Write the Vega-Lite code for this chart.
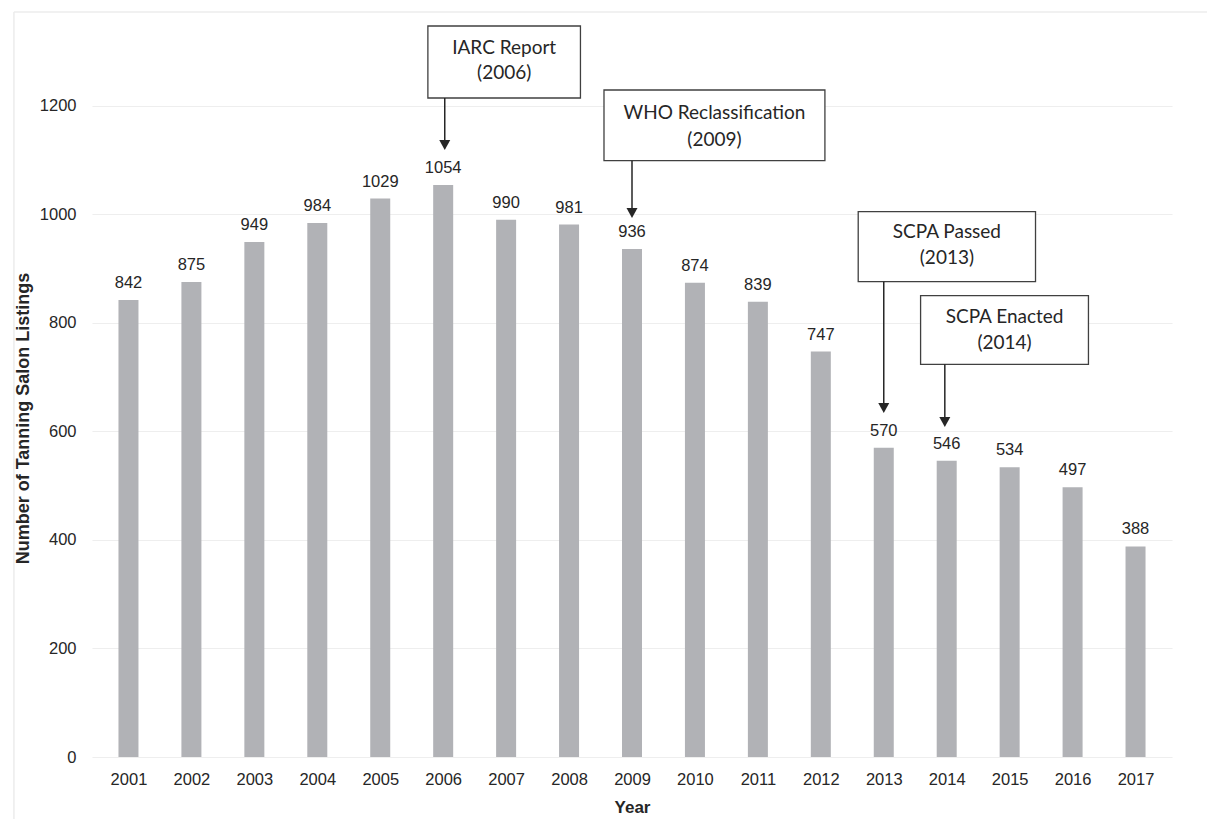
{
  "$schema": "https://vega.github.io/schema/vega-lite/v6.json",
  "width": 1080,
  "height": 749,
  "autosize": {"type": "none"},
  "padding": {"left": 92, "top": 8, "right": 35, "bottom": 62},
  "background": "white",
  "config": {"view": {"stroke": null}, "font": "Liberation Sans", "axis": {"labelFont": "Liberation Sans", "titleFont": "Liberation Sans"}},
  "datasets": {
    "bars": [
      {"year": 2001, "value": 842}, {"year": 2002, "value": 875}, {"year": 2003, "value": 949},
      {"year": 2004, "value": 984}, {"year": 2005, "value": 1029}, {"year": 2006, "value": 1054},
      {"year": 2007, "value": 990}, {"year": 2008, "value": 981}, {"year": 2009, "value": 936},
      {"year": 2010, "value": 874}, {"year": 2011, "value": 839}, {"year": 2012, "value": 747},
      {"year": 2013, "value": 570}, {"year": 2014, "value": 546}, {"year": 2015, "value": 534},
      {"year": 2016, "value": 497}, {"year": 2017, "value": 388}
    ],
    "boxes": [
      {"name": "IARC", "year": 2005.757, "year2": 2008.181, "value": 1346.8, "value2": 1214.2},
      {"name": "WHO", "year": 2008.555, "year2": 2012.065, "value": 1228.9, "value2": 1098.7},
      {"name": "SCPA P", "year": 2012.594, "year2": 2015.411, "value": 1004.7, "value2": 875.7},
      {"name": "SCPA E", "year": 2013.585, "year2": 2016.252, "value": 849.9, "value2": 723.5}
    ],
    "boxtext": [
      {"year": 2006.969, "value": 1305.8, "label": "IARC Report"},
      {"year": 2006.969, "value": 1259.7, "label": "(2006)"},
      {"year": 2010.31, "value": 1186.0, "label": "WHO Reclassification"},
      {"year": 2010.31, "value": 1136.8, "label": "(2009)"},
      {"year": 2014.003, "value": 966.7, "label": "SCPA Passed"},
      {"year": 2014.003, "value": 918.8, "label": "(2013)"},
      {"year": 2014.919, "value": 811.2, "label": "SCPA Enacted"},
      {"year": 2014.919, "value": 762.2, "label": "(2014)"}
    ],
    "arrows": [
      {"year": 2006.025, "value": 1214.2, "value2": 1135.0, "head": 1127.6},
      {"year": 2009.0, "value": 1098.7, "value2": 1009.7, "head": 1002.3},
      {"year": 2013.0, "value": 875.7, "value2": 650.4, "head": 643.0},
      {"year": 2013.97, "value": 723.5, "value2": 624.6, "head": 617.2}
    ],
    "frameH": [{"year": 1999.18, "year2": 2018.6, "value": 1372.6}],
    "frameV": [{"year": 1999.18, "value": 1372.6, "value2": -120}]
  },
  "layer": [
    {
      "data": {"name": "bars"},
      "mark": {"type": "bar", "width": 20, "color": "#b1b2b6"},
      "encoding": {
        "x": {
          "field": "year", "type": "quantitative",
          "scale": {"domain": [2000.5, 2017.5], "nice": false, "zero": false},
          "axis": {
            "values": [2001, 2002, 2003, 2004, 2005, 2006, 2007, 2008, 2009, 2010, 2011, 2012, 2013, 2014, 2015, 2016, 2017],
            "format": "d", "grid": false, "domain": false, "ticks": false,
            "labelFont": "Liberation Sans", "labelFontSize": 16.5, "labelColor": "#262626", "labelPadding": 14,
            "title": "Year", "titleFont": "Liberation Sans", "titleFontSize": 17, "titleFontWeight": "bold", "titleColor": "#262626",
            "titleY": 55, "titleBaseline": "alphabetic"
          }
        },
        "y": {
          "field": "value", "type": "quantitative",
          "scale": {"domain": [0, 1380], "nice": false},
          "axis": {
            "values": [0, 200, 400, 600, 800, 1000, 1200], "format": "d",
            "grid": true, "gridColor": "#eeeeee", "gridWidth": 1.2, "domain": false, "ticks": false,
            "labelFont": "Liberation Sans", "labelFontSize": 16.5, "labelColor": "#262626", "labelPadding": 16,
            "title": "Number of Tanning Salon Listings", "titleFont": "Liberation Sans", "titleFontSize": 18, "titleFontWeight": "bold", "titleColor": "#262626",
            "titleX": -69, "titleY": 410, "titleBaseline": "middle", "titleAngle": 270, "titleAlign": "center"
          }
        }
      }
    },
    {
      "data": {"name": "bars"},
      "mark": {"type": "text", "baseline": "alphabetic", "dy": -12, "fontSize": 16.5, "color": "#262626", "font": "Liberation Sans"},
      "encoding": {
        "x": {"field": "year", "type": "quantitative"},
        "y": {"field": "value", "type": "quantitative"},
        "text": {"field": "value", "type": "quantitative"}
      }
    },
    {
      "data": {"name": "boxes"},
      "mark": {"type": "rect", "fill": "white", "stroke": "#404040", "strokeWidth": 1.3},
      "encoding": {
        "x": {"field": "year", "type": "quantitative"},
        "x2": {"field": "year2"},
        "y": {"field": "value", "type": "quantitative"},
        "y2": {"field": "value2"}
      }
    },
    {
      "data": {"name": "boxtext"},
      "mark": {"type": "text", "baseline": "middle", "align": "center", "fontSize": 19, "font": "Lato", "color": "#262626"},
      "encoding": {
        "x": {"field": "year", "type": "quantitative"},
        "y": {"field": "value", "type": "quantitative"},
        "text": {"field": "label", "type": "nominal"}
      }
    },
    {
      "data": {"name": "arrows"},
      "mark": {"type": "rule", "color": "#262626", "strokeWidth": 1.5},
      "encoding": {
        "x": {"field": "year", "type": "quantitative"},
        "y": {"field": "value", "type": "quantitative"},
        "y2": {"field": "value2"}
      }
    },
    {
      "data": {"name": "arrows"},
      "mark": {"type": "point", "shape": "M-1,-0.9L1,-0.9L0,0.9Z", "size": 121, "filled": true, "color": "#262626", "opacity": 1},
      "encoding": {
        "x": {"field": "year", "type": "quantitative"},
        "y": {"field": "head", "type": "quantitative"}
      }
    },
    {
      "data": {"name": "frameH"},
      "mark": {"type": "rule", "color": "#ececec", "strokeWidth": 1.5},
      "encoding": {
        "x": {"field": "year", "type": "quantitative"},
        "x2": {"field": "year2"},
        "y": {"field": "value", "type": "quantitative"}
      }
    },
    {
      "data": {"name": "frameV"},
      "mark": {"type": "rule", "color": "#ececec", "strokeWidth": 1.5},
      "encoding": {
        "x": {"field": "year", "type": "quantitative"},
        "y": {"field": "value", "type": "quantitative"},
        "y2": {"field": "value2"}
      }
    }
  ]
}
